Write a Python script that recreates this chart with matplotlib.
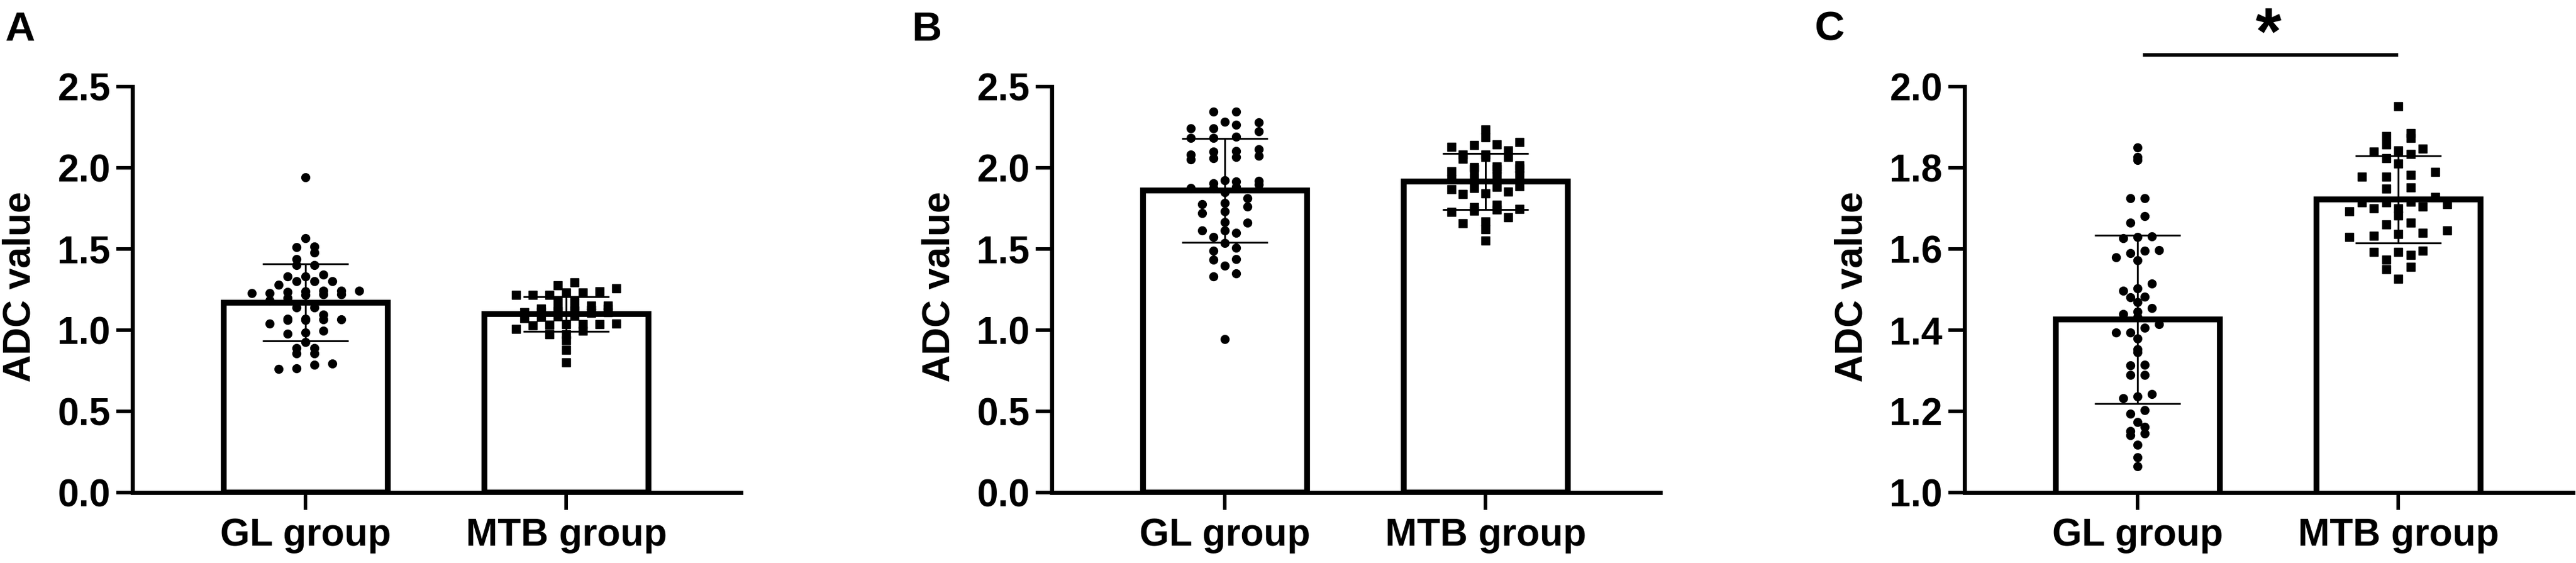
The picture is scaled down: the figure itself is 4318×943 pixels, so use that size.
import numpy as np
import matplotlib
matplotlib.use('Agg')
import matplotlib.pyplot as plt

plt.rcParams['font.family'] = ['Liberation Sans', 'DejaVu Sans']
plt.rcParams['font.weight'] = 'bold'

groups = ['GL group', 'MTB group']
letters = ['A', 'B', 'C']

# ADC values
a_gl = [1.94, 1.565, 1.513, 1.51, 1.479, 1.438, 1.40, 1.40, 1.343, 1.33, 1.33, 1.30, 1.30, 1.30, 1.28,
        1.244, 1.244, 1.244, 1.24, 1.235, 1.229, 1.229, 1.222, 1.219, 1.216, 1.197, 1.185, 1.14, 1.14,
        1.097, 1.07, 1.066, 1.066, 1.063, 1.063, 1.07, 1.04, 0.995, 0.977, 0.987, 0.925, 0.888, 0.888,
        0.857, 0.857, 0.793, 0.787, 0.764, 0.760]
a_mtb = [1.295, 1.274, 1.256, 1.238, 1.23, 1.23, 1.217, 1.217, 1.217, 1.183, 1.183, 1.152, 1.152,
         1.133, 1.133, 1.133, 1.133, 1.118, 1.12, 1.115, 1.11, 1.105, 1.125, 1.112, 1.09, 1.085, 1.08,
         1.075, 1.037, 1.04, 1.035, 1.037, 1.03, 1.033, 1.008, 0.998, 0.974, 0.974, 0.9375, 0.879, 0.802]
b_gl = [2.344, 2.344, 2.283, 2.278, 2.265, 2.243, 2.241, 2.224, 2.19, 2.185, 2.185, 2.113, 2.104,
        2.098, 2.081, 2.075, 2.065, 2.058, 2.050, 1.924, 1.918, 1.915, 1.906, 1.896, 1.881, 1.875,
        1.875, 1.850, 1.814, 1.783, 1.777, 1.762, 1.730, 1.719, 1.667, 1.663, 1.614, 1.614, 1.572,
        1.599, 1.535, 1.507, 1.489, 1.4375, 1.434, 1.397, 1.348, 1.330, 0.944]
b_mtb = [2.234, 2.188, 2.157, 2.14, 2.142, 2.129, 2.105, 2.080, 2.080, 2.065, 2.065, 2.056, 2.016,
         2.004, 2.006, 1.998, 1.991, 1.991, 1.979, 1.957, 1.949, 1.930, 1.936, 1.887, 1.875, 1.869,
         1.881, 1.842, 1.854, 1.838, 1.771, 1.746, 1.744, 1.759, 1.728, 1.734, 1.694, 1.670, 1.658,
         1.621, 1.553]
c_gl = [1.850, 1.827, 1.819, 1.725, 1.725, 1.681, 1.665, 1.630, 1.626, 1.631, 1.596, 1.589, 1.580,
        1.597, 1.572, 1.515, 1.503, 1.497, 1.481, 1.482, 1.469, 1.454, 1.446, 1.433, 1.440, 1.414,
        1.406, 1.394, 1.394, 1.379, 1.353, 1.346, 1.314, 1.313, 1.289, 1.289, 1.242, 1.237, 1.232,
        1.203, 1.194, 1.173, 1.162, 1.151, 1.145, 1.141, 1.118, 1.087, 1.064]
c_mtb = [1.951, 1.886, 1.878, 1.873, 1.857, 1.847, 1.843, 1.839, 1.834, 1.823, 1.811, 1.789, 1.778,
         1.778, 1.783, 1.752, 1.748, 1.728, 1.716, 1.715, 1.715, 1.700, 1.700, 1.705, 1.710, 1.692,
         1.682, 1.661, 1.665, 1.646, 1.640, 1.637, 1.632, 1.630, 1.592, 1.595, 1.592, 1.586, 1.573,
         1.556, 1.550, 1.527]

# bar heights (mean) and error bars (SD) as drawn
mean_a = [1.17, 1.10]
sd_a = [0.237, 0.107]
mean_b = [1.86, 1.915]
sd_b = [0.319, 0.173]
mean_c = [1.426, 1.722]
sd_c = [0.2075, 0.108]

yticks_ab = [0.0, 0.5, 1.0, 1.5, 2.0, 2.5]
yticks_c = [1.0, 1.2, 1.4, 1.6, 1.8, 2.0]

panels = [
    ([a_gl, a_mtb], mean_a, sd_a, yticks_ab),
    ([b_gl, b_mtb], mean_b, sd_b, yticks_ab),
    ([c_gl, c_mtb], mean_c, sd_c, yticks_c),
]

W, H = 4318, 943
ax_left = [222, 1763, 3293]
letter_x = [8, 1528, 3041]
ax_w, ax_top, ax_bot = 1020, 145, 825
xlo, xhi = -0.665, 1.67
px_x = ax_w / (xhi - xlo)
# horizontal step between neighbours in a row (px) and max points per row
steps = [[30, 28], [38, 38], [24, 41]]
max_row = [[11, 9], [5, 6], [5, 7]]
row_px = 14


def swarm(vals, row_h, step, max_n):
    vals = np.asarray(vals)
    rows = np.floor((vals - vals.min()) / row_h).astype(int)
    x = np.zeros(len(vals))
    for r in np.unique(rows):
        idx = np.where(rows == r)[0]
        idx = idx[np.argsort(vals[idx])]
        nchunk = int(np.ceil(len(idx) / max_n))
        for k, chunk in enumerate(np.array_split(idx, nchunk)):
            n = len(chunk)
            shift = 0.5 * step * (k % 2) * (1 if n % 2 else 0)
            offs = (np.arange(n) - (n - 1) / 2) * step + shift
            order = np.argsort(np.abs(offs), kind='stable')
            x[chunk[order]] = offs[order]
    return x


fig = plt.figure(figsize=(W / 100, H / 100), dpi=100)
markers = ['o', 's']

for p, (data, means, sds, yt) in enumerate(panels):
    ax = fig.add_axes([ax_left[p] / W, (H - ax_bot) / H, ax_w / W, (ax_bot - ax_top) / H])
    ylo, yhi = yt[0], yt[-1]
    px_y = (ax_bot - ax_top) / (yhi - ylo)
    ax.bar([0, 1], means, width=0.63, color='white', edgecolor='black', linewidth=7,
           joinstyle='miter', zorder=1)
    for g in range(2):
        xs = g + swarm(data[g], row_px / px_y, steps[p][g] / px_x, max_row[p][g])
        ax.plot(xs, data[g], ls='none', marker=markers[g], ms=10, color='black',
                mec='black', zorder=2)
    ax.errorbar([0, 1], means, yerr=sds, fmt='none', ecolor='black', elinewidth=2.2,
                capsize=51.8, capthick=2.2, zorder=3)
    ax.set_xlim(xlo, xhi)
    ax.set_ylim(ylo, yhi)
    ax.set_yticks(yt)
    ax.set_yticklabels(['%.1f' % v for v in yt])
    ax.set_xticks([0, 1])
    ax.set_xticklabels(groups)
    for s in ['top', 'right']:
        ax.spines[s].set_visible(False)
    for s in ['left', 'bottom']:
        ax.spines[s].set_linewidth(5)
        ax.spines[s].set_capstyle('projecting')
    ax.tick_params(axis='y', length=19.5, width=4.3, pad=7, labelsize=46)
    ax.tick_params(axis='x', length=21, width=4.3, pad=9, labelsize=46)
    ax.patch.set_visible(False)

    fig.text((ax_left[p] - 188) / W, 1 - 480 / H, 'ADC value', rotation=90,
             ha='center', va='center', fontsize=46, fontweight='bold')
    fig.text(letter_x[p] / W, 1 - 18 / H, letters[p], ha='left', va='top',
             fontsize=50, fontweight='bold')

    if p == 2:
        ax.plot([0.02, 1.0], [2.078, 2.078], color='black', lw=4.3, clip_on=False,
                solid_capstyle='butt')
        ax.text(0.5, 2.08, '*', ha='center', va='baseline', fontsize=80,
                fontweight='bold', clip_on=False)

fig.savefig('out.png', dpi=100, facecolor='white')
